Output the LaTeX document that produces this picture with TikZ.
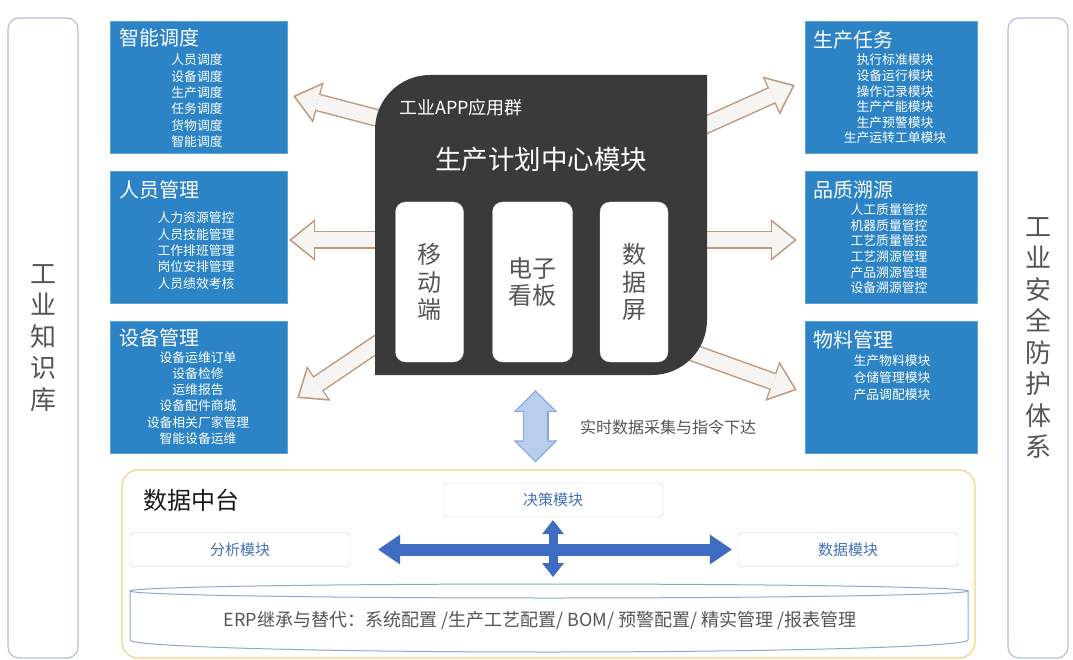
\documentclass[tikz,border=0pt]{standalone}
\usepackage{fontspec}
\setmainfont{Noto Sans CJK SC}
\usetikzlibrary{arrows.meta,positioning}

\begin{document}
\begin{tikzpicture}[x=1pt,y=-1pt,
        caja/.style={fill=azul,draw=azul!75!white,inner sep=0pt,minimum width=177pt,minimum height=132pt},
        titulo/.style={anchor=west,inner sep=0pt,text=white,font=\fontsize{20}{24}\selectfont},
        item/.style={inner sep=0pt,text=white,font=\fontsize{12.8}{15}\selectfont},
        lateral/.style={draw=borde,line width=1.2pt,rounded corners=11pt,minimum height=640pt,inner sep=0pt,
            text=gris,align=center,font=\fontsize{26}{31.5}\selectfont},
        pantalla/.style={fill=white,draw=bordepant,rounded corners=10pt,minimum height=160pt,inner sep=0pt,
            text=gris,align=center,font=\fontsize{24}{27.5}\selectfont},
        modulo/.style={fill=white,draw=gray!40,rounded corners=4pt,minimum width=220pt,minimum height=34pt,
            text=azultxt,font=\fontsize{15}{18}\selectfont},
        flecha/.style={draw=marron,line width=18pt,-{Triangle[length=26pt,width=42pt,line width=0pt]},
            postaction={draw=blanco,line width=15pt,shorten >=2.6pt,
            -{Triangle[length=22pt,width=35.5pt,line width=0pt]}}},
        flechav/.style={draw=celestebd,line width=26pt,
            {Triangle[length=22pt,width=44pt,line width=0pt]}-{Triangle[length=22pt,width=44pt,line width=0pt]},
            postaction={draw=celeste,line width=23.6pt,shorten >=1.7pt,shorten <=1.7pt,
            {Triangle[length=19.1pt,width=38.2pt,line width=0pt]}-{Triangle[length=19.1pt,width=38.2pt,line width=0pt]}}},
        flechaz/.style={draw=azulflecha,line width=12pt,
            {Triangle[length=22pt,width=30pt,line width=0pt]}-{Triangle[length=22pt,width=30pt,line width=0pt]}},
        flechazv/.style={draw=azulflecha,line width=9pt,
            {Triangle[length=14pt,width=22pt,line width=0pt]}-{Triangle[length=14pt,width=22pt,line width=0pt]}}
    ]
    % colores
    \definecolor{azul}{HTML}{2C84C7}
    \definecolor{oscuro}{HTML}{3A3A3A}
    \definecolor{borde}{HTML}{B5C0DA}
    \definecolor{bordepant}{HTML}{C9D2EA}
    \definecolor{gris}{HTML}{555555}
    \definecolor{oro}{HTML}{F2D37E}
    \definecolor{azultxt}{HTML}{4470B8}
    \definecolor{azulflecha}{HTML}{3D6CC0}
    \definecolor{celeste}{HTML}{B7CFEC}
    \definecolor{celestebd}{HTML}{86A7D6}
    \definecolor{marron}{HTML}{BF9A80}
    \definecolor{blanco}{HTML}{F7F5F3}
    \definecolor{cilindro}{HTML}{8DA8CF}

    \useasboundingbox[fill=white] (0,0) rectangle (1073,660);

    % barras laterales
    \node[lateral,minimum width=70pt] (saber) at (43,338) {工\\业\\知\\识\\库};
    \node[lateral,minimum width=60pt] (seguridad) at (1038,338) {工\\业\\安\\全\\防\\护\\体\\系};

    % cajas izquierda
    \node[caja] (zd) at (198.5,87) {};
    \node[titulo] (zd-t) at (119,38) {智能调度};
    \foreach \t [count=\i] in {人员调度,设备调度,生产调度,任务调度,货物调度,智能调度}
        \node[item] (zd-\i) at (197,{43.7+16.3*\i}) {\t};

    \node[caja] (ry) at (198.5,237) {};
    \node[titulo] (ry-t) at (119,190) {人员管理};
    \foreach \t [count=\i] in {人力资源管控,人员技能管理,工作排班管理,岗位安排管理,人员绩效考核}
        \node[item] (ry-\i) at (196,{201.7+16.3*\i}) {\t};

    \node[caja] (sb) at (198.5,387) {};
    \node[titulo] (sb-t) at (119,338) {设备管理};
    \foreach \t [count=\i] in {设备运维订单,设备检修,运维报告,设备配件商城,设备相关厂家管理,智能设备运维}
        \node[item] (sb-\i) at (198,{341.3+16.2*\i}) {\t};

    % cajas derecha
    \node[caja,minimum width=172pt] (sc) at (891,87) {};
    \node[titulo] (sc-t) at (813,40) {生产任务};
    \foreach \t [count=\i] in {执行标准模块,设备运行模块,操作记录模块,生产产能模块,生产预警模块,生产运转工单模块}
        \node[item] (sc-\i) at (895,{44.4+15.6*\i}) {\t};

    \node[caja,minimum width=172pt] (pz) at (891,237) {};
    \node[titulo] (pz-t) at (813,190) {品质溯源};
    \foreach \t [count=\i] in {人工质量管控,机器质量管控,工艺质量管控,工艺溯源管理,产品溯源管理,设备溯源管控}
        \node[item] (pz-\i) at (889,{193.8+15.7*\i}) {\t};

    \node[caja,minimum width=172pt] (wl) at (891,387) {};
    \node[titulo] (wl-t) at (813,340) {物料管理};
    \foreach \t [count=\i] in {生产物料模块,仓储管理模块,产品调配模块}
        \node[item] (wl-\i) at (892,{344+17*\i}) {\t};

    % flechas hacia los lados
    \node[minimum width=332pt,minimum height=300pt,inner sep=0pt] (app) at (541,225) {};
    \draw[flecha] ([xshift=13pt,yshift=-46pt]app.north west) -- ([xshift=6pt,yshift=-9pt]zd.east);
    \draw[flecha] ([xshift=8pt,yshift=-15pt]app.west) -- ([xshift=2pt,yshift=-3pt]ry.east);
    \draw[flecha] ([xshift=8pt,yshift=-115pt]app.west) -- ([xshift=10pt,yshift=-11pt]sb.east);
    \draw[flecha] ([xshift=-12pt,yshift=-55pt]app.north east) -- ([xshift=-10pt,yshift=2pt]sc.west);
    \draw[flecha] ([xshift=-8pt,yshift=-15pt]app.east) -- ([xshift=-8pt,yshift=-3pt]pz.west);
    \draw[flecha] ([xshift=-22pt,yshift=-125pt]app.east) -- ([xshift=-8pt,yshift=-3pt]wl.west);

    % bloque central
    \fill[oscuro] (375,375) -- (375,130) .. controls (375,99.6) and (399.6,75) .. (430,75) -- (707,75)
        -- (707,320) .. controls (707,350.4) and (682.4,375) .. (652,375) -- cycle;
    \node[anchor=west,inner sep=0pt,text=white,font=\fontsize{18}{20}\selectfont] (grupo) at (399,108) {工业APP应用群};
    \node[inner sep=0pt,text=white,font=\fontsize{26.5}{30}\selectfont] (plan) at (541,160) {生产计划中心模块};
    \node[pantalla,minimum width=68pt] (movil) at (429.5,282) {移\\动\\端};
    \node[pantalla,minimum width=80pt] (tablero) at (532.5,282) {电子\\看板};
    \node[pantalla,minimum width=68pt] (pantallas) at (634,282) {数\\据\\屏};

    % datos centrales
    \node[draw=oro,line width=1.2pt,rounded corners=16pt,minimum width=853pt,minimum height=188pt,inner sep=0pt] (centro) at (548.5,564) {};
    \coordinate (arriba) at ([xshift=-5.5pt,yshift=-15pt]app.south);
    \path (arriba |- centro.north) ++(0,-7) coordinate (abajo);
    \draw[flechav] (arriba) -- (abajo);
    \node[anchor=west,inner sep=0pt,text=gris,font=\fontsize{16}{18}\selectfont] (etiq) at (580,427) {实时数据采集与指令下达};

    \node[anchor=west,inner sep=0pt,text=black!90,font=\fontsize{24}{28}\selectfont] (dzt) at (143,500) {数据中台};
    \node[modulo] (juece) at (553,500) {决策模块};
    \node[modulo] (fenxi) at (240,549.5) {分析模块};
    \node[modulo] (shuju) at (848,549.5) {数据模块};

    % cilindro
    \draw[cilindro,line width=1pt,fill=white] (130,591) -- (130,640) arc[start angle=180,end angle=0,x radius=419,y radius=12] -- (968,591);
    \draw[cilindro,line width=1pt] (549,591) ellipse [x radius=419,y radius=7];
    \coordinate (tope) at (553,584);
    \node[text=gris,font=\fontsize{18}{20}\selectfont] (erp) at (540,620) {ERP继承与替代：系统配置 /生产工艺配置/ BOM/ 预警配置/ 精实管理 /报表管理};

    \draw[flechaz] ([xshift=28pt]fenxi.east) -- ([xshift=-6pt]shuju.west);
    \draw[flechazv] ([yshift=-3pt]juece.south) -- ([yshift=7pt]tope);
\end{tikzpicture}
\end{document}
